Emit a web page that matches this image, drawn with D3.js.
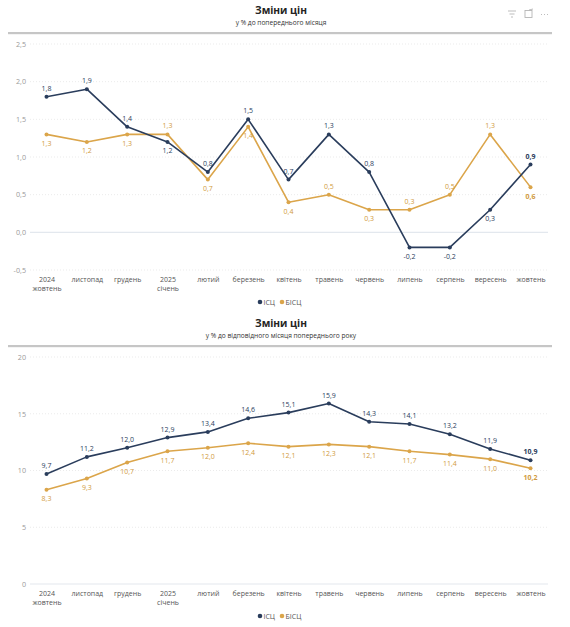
<!DOCTYPE html>
<html><head><meta charset="utf-8">
<script src="https://cdn.jsdelivr.net/npm/d3@7"></script>
<style>
body{margin:0;background:#fff;}
svg{display:block;font-family:"Open Sans","Segoe UI",sans-serif;}
</style></head>
<body>
<svg id="c" width="570" height="627"></svg>
<script>
const months = ["2024\nжовтень","листопад","грудень","2025\nсічень","лютий","березень","квітень","травень","червень","липень","серпень","вересень","жовтень"];
const seriesNames = ["ІСЦ","БІСЦ"];
const momCPI  = [1.8,1.9,1.4,1.2,0.8,1.5,0.7,1.3,0.8,-0.2,-0.2,0.3,0.9];
const momCore = [1.3,1.2,1.3,1.3,0.7,1.4,0.4,0.5,0.3,0.3,0.5,1.3,0.6];
const momCPIPos  = [-1,-1,-1,1,-1,-1,-1,-1,-1,1,1,1,-1];
const momCorePos = [1,1,1,-1,1,1,1,-1,1,-1,-1,-1,1];
const yoyCPI  = [9.7,11.2,12.0,12.9,13.4,14.6,15.1,15.9,14.3,14.1,13.2,11.9,10.9];
const yoyCore = [8.3,9.3,10.7,11.7,12.0,12.4,12.1,12.3,12.1,11.7,11.4,11.0,10.2];
const momTicks = [-0.5,0,0.5,1,1.5,2,2.5];
const yoyTicks = [0,5,10,15,20];

const colors = ["#2a3d5c","#dba54a"];
const labelColors = ["#2a3d5c","#d19b40"];
const svg = d3.select("#c");
const fmt = v => d3.format(".1f")(v).replace(".",",").replace("−","-");
const fmtTick = (v,dec) => (dec ? d3.format(".1f")(v) : d3.format("d")(v)).replace(".",",").replace("−","-");

function chart(o){
  const g = svg.append("g");
  g.append("text").attr("x",281).attr("y",o.top+4).attr("text-anchor","middle")
    .attr("font-size",10.2).attr("font-weight",700).attr("fill","#252423").text("Зміни цін");
  g.append("text").attr("x",281).attr("y",o.top+15).attr("text-anchor","middle")
    .attr("font-size",6.6).attr("fill","#333").text(o.subtitle);
  g.append("rect").attr("x",8).attr("y",o.top+22).attr("width",544).attr("height",2.2).attr("fill","#c6c6c6");

  const x = d3.scalePoint().domain(months.map((m,i)=>i)).range([46.5,530.5]);
  const y = d3.scaleLinear().domain(o.domain).range(o.yRange);

  g.append("g").selectAll("line").data(o.ticks).join("line")
    .attr("x1",30).attr("x2",548).attr("y1",d=>y(d)).attr("y2",d=>y(d))
    .attr("stroke",d=>d===0?"#e3e8ee":"#e6e6e6").attr("stroke-width",d=>d===0?1.2:0.8)
    .attr("stroke-dasharray",d=>d===0?null:"1,2");
  const ya = g.append("g").attr("transform","translate(26,0)")
    .call(d3.axisLeft(y).tickValues(o.ticks).tickSize(0).tickPadding(0).tickFormat(d=>fmtTick(d,o.dec)));
  ya.select(".domain").remove();
  ya.selectAll("text").attr("font-size",7.2).attr("fill","#9a9a9a").attr("font-family","'Open Sans',sans-serif");

  const xa = g.append("g").attr("transform",`translate(0,${o.xLabelY})`)
    .call(d3.axisBottom(x).tickSize(0).tickPadding(0).tickFormat(()=>""));
  xa.select(".domain").remove();
  xa.selectAll(".tick").each(function(d){
    const t = d3.select(this).select("text").attr("font-size",7).attr("fill","#555")
      .attr("font-family","'Open Sans',sans-serif").attr("dy",0);
    months[d].split("\n").forEach((s,k)=>{
      t.append("tspan").attr("x",0).attr("dy",k===0?"0.71em":"1.25em").text(s);
    });
  });

  const line = d3.line().x((d,i)=>x(i)).y(d=>y(d));
  [1,0].forEach(si=>{
    const data = o.series[si];
    g.append("path").datum(data).attr("d",line).attr("fill","none")
      .attr("stroke",colors[si]).attr("stroke-width",1.6).attr("stroke-linejoin","round");
    g.append("g").selectAll("circle").data(data).join("circle")
      .attr("cx",(d,i)=>x(i)).attr("cy",d=>y(d)).attr("r",2).attr("fill",colors[si]);
    g.append("g").selectAll("text").data(data).join("text")
      .attr("x",(d,i)=>x(i))
      .attr("y",(d,i)=>y(d)+(o.pos[si][i]<0?-6:11.5))
      .attr("text-anchor","middle").attr("font-size",7)
      .attr("font-weight",(d,i)=>i===data.length-1?700:400)
      .attr("fill",labelColors[si]).text(d=>fmt(d));
  });

  const lg = g.append("g").attr("transform",`translate(0,${o.legendY})`);
  const items = [{n:seriesNames[0],x:260},{n:seriesNames[1],x:282}];
  items.forEach((it,k)=>{
    lg.append("circle").attr("cx",it.x).attr("cy",0).attr("r",2.3).attr("fill",colors[k]);
    lg.append("text").attr("x",it.x+3.5).attr("y",2.5).attr("font-size",7).attr("fill","#555").text(it.n);
  });
}

chart({top:10, subtitle:"у % до попереднього місяця", domain:[-0.5,2.5], yRange:[270,44],
  ticks:momTicks, dec:true, series:[momCPI,momCore], pos:[momCPIPos,momCorePos], xLabelY:277, legendY:302});
chart({top:323, subtitle:"у % до відповідного місяця попереднього року", domain:[0,20], yRange:[584,357],
  ticks:yoyTicks, dec:false, series:[yoyCPI,yoyCore], pos:[yoyCPI.map(()=>-1),yoyCore.map(()=>1)], xLabelY:591, legendY:616});

const ic = svg.append("g").attr("stroke","#b5b5b5").attr("fill","none").attr("stroke-width",0.9);
ic.append("path").attr("d","M508,11 h8 M509.5,14 h5 M511,17 h2");
ic.append("rect").attr("x",525).attr("y",10.5).attr("width",7).attr("height",7);
ic.append("path").attr("d","M529,10 l4,-1 M541,14.5 h1 M544,14.5 h1 M547,14.5 h1");
</script>
</body></html>
